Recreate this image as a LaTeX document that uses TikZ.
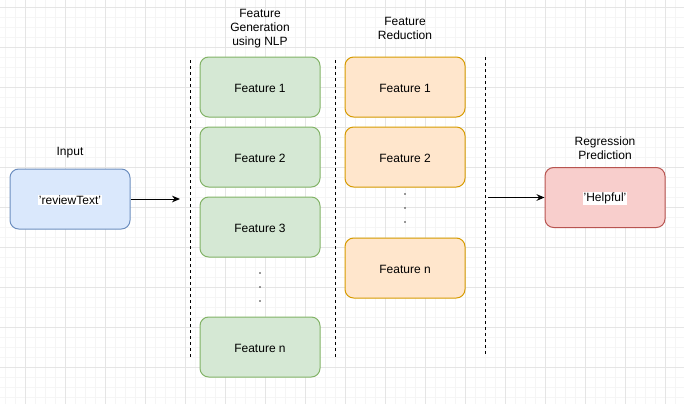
\documentclass[tikz,border=0pt]{standalone}
\usepackage{fontspec}
\setmainfont{Liberation Sans}
\usetikzlibrary{arrows.meta}
\definecolor{azulF}{HTML}{DAE8FC}\definecolor{azulL}{HTML}{6C8EBF}
\definecolor{verdeF}{HTML}{D5E8D4}\definecolor{verdeL}{HTML}{82B366}
\definecolor{laranjaF}{HTML}{FFE6CC}\definecolor{laranjaL}{HTML}{D79B00}
\definecolor{vermF}{HTML}{F8CECC}\definecolor{vermL}{HTML}{B85450}
\tikzset{
  caixa/.style={rounded corners=6.5pt, line width=0.75pt, minimum width=90pt,
    minimum height=45pt, inner sep=0pt, font=\fontsize{9}{10.3}\selectfont},
  titulo/.style={align=center, inner sep=0pt, font=\fontsize{9}{10.3}\selectfont},
  divisor/.style={line width=0.75pt, dash pattern=on 2.25pt off 2.25pt},
  seta/.style={-{Stealth[length=6pt,width=5pt]}, line width=0.75pt},
  ponto/.style={circle, fill=black!80, inner sep=0pt, minimum size=1.4pt}
}
\newcommand{\desce}[1]{\raisebox{-0.8pt}[\height][\depth]{#1}}
\newcommand{\rotulo}[1]{\desce{\setlength{\fboxsep}{0.6pt}\colorbox{white}{#1}}}
\begin{document}
\begin{tikzpicture}[x=0.75pt, y=-0.75pt]
  \useasboundingbox (0,0) rectangle (684,404);
  \fill[white] (0,0) rectangle (684,404);

  % grade de fundo
  \foreach \x in {5,15,...,675} \draw[black!4, line width=0.75pt] (\x,0) -- (\x,404);
  \foreach \y in {7,17,...,397} \draw[black!4, line width=0.75pt] (0,\y) -- (684,\y);
  \foreach \x in {25,65,...,665} \draw[black!10, line width=0.75pt] (\x,0) -- (\x,404);
  \foreach \y in {7,47,...,367} \draw[black!10, line width=0.75pt] (0,\y) -- (684,\y);

  % entrada
  \node[titulo] (tInput) at (70,153) {Input};
  \node[caixa, fill=azulF, draw=azulL] (input) at (70,199) {\rotulo{'reviewText'}};

  % divisores tracejados
  \draw[divisor] (190.5,60) -- (190.5,357);
  \draw[divisor] (335.5,60) -- (335.5,357);
  \draw[divisor] (485.5,57) -- (485.5,354);

  % geracao de features
  \node[titulo] (tGen) at (260,28.5) {Feature\\Generation\\using NLP};
  \node[caixa, fill=verdeF, draw=verdeL] (g1) at (260,87) {\desce{Feature 1}};
  \node[caixa, fill=verdeF, draw=verdeL] (g2) at (260,157) {\desce{Feature 2}};
  \node[caixa, fill=verdeF, draw=verdeL] (g3) at (260,227) {\desce{Feature 3}};
  \node[caixa, fill=verdeF, draw=verdeL] (gn) at (260,347) {\desce{Feature n}};
  \foreach \y in {273,287,301} \node[ponto] at (260,\y) {};

  % reducao de features
  \node[titulo] (tRed) at (405,28.5) {Feature\\Reduction};
  \node[caixa, fill=laranjaF, draw=laranjaL] (r1) at (405,87) {\desce{Feature 1}};
  \node[caixa, fill=laranjaF, draw=laranjaL] (r2) at (405,157) {\desce{Feature 2}};
  \node[caixa, fill=laranjaF, draw=laranjaL] (rn) at (405,268) {\desce{Feature n}};
  \foreach \y in {194,208,222} \node[ponto] at (405,\y) {};

  % predicao
  \node[titulo] (tPred) at (605,148.5) {Regression\\Prediction};
  \node[caixa, fill=vermF, draw=vermL] (pred) at (605,197.5) {\rotulo{'Helpful'}};

  % setas
  \coordinate (fimIn) at (180,199);
  \coordinate (iniPred) at (488,197.5);
  \draw[seta] (input.east) -- (fimIn);
  \draw[seta] (iniPred) -- (pred.west);
\end{tikzpicture}
\end{document}
